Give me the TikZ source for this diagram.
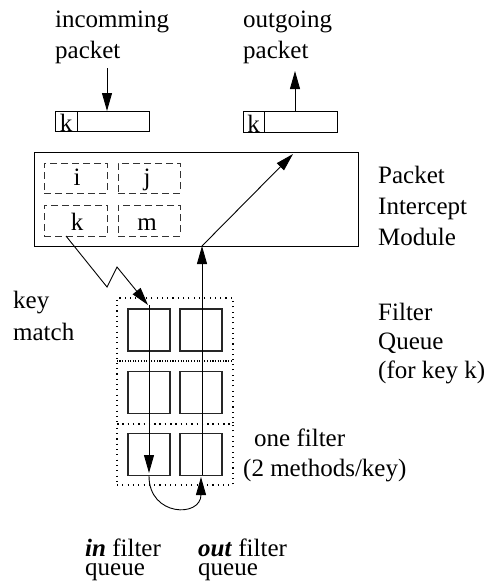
\documentclass[tikz,border=0pt]{standalone}
\usepackage{fontspec}
\setmainfont{Liberation Serif}
\usetikzlibrary{arrows.meta}
\begin{document}
\begin{tikzpicture}[x=1pt,y=1pt,
  txt/.style={font=\fontsize{25}{30}\selectfont, inner sep=0pt, anchor=base west},
  two/.style={font=\fontsize{25}{19}\selectfont, inner sep=0pt, anchor=south west, align=left},
  lbl/.style={font=\fontsize{25}{30}\selectfont, inner sep=0pt, anchor=base},
  arr/.style={line width=0.9pt, -{Triangle[length=18pt,width=10pt]}},
  ln/.style={line width=0.9pt},
  box/.style={draw, line width=0.9pt, rectangle, inner sep=0pt},
  dsh/.style={draw=black!80, rectangle, inner sep=0pt, dash pattern=on 7pt off 4pt, line width=0.9pt},
  dotb/.style={draw, rectangle, inner sep=0pt, dash pattern=on 1.1pt off 4.2pt, line width=1.2pt},
  fbox/.style={draw=black!85, rectangle, inner sep=0pt, line width=1.1pt, minimum width=42pt, minimum height=42pt}
]
\useasboundingbox (0,0) rectangle (487,-582);

% top labels
\node[txt] (tin1) at (55,-27) {incomming};
\node[txt] (tin2) at (55,-58) {packet};
\node[txt] (tout1) at (243,-27) {outgoing};
\node[txt] (tout2) at (243,-58) {packet};

% packets
\node[box, minimum width=94pt, minimum height=20pt] (pin) at (102,-121) {};
\draw[ln] (77,-111) -- (77,-131);
\node[lbl] (kin) at (66,-131) {k};
\node[box, minimum width=94pt, minimum height=21pt] (pout) at (290,-121.5) {};
\draw[ln] (264,-111) -- (264,-132);
\node[lbl] (kout) at (253.5,-132) {k};

\coordinate (ainS) at (107,-68);
\coordinate (ainE) at (107,-111);
\draw[arr] (ainS) -- (ainE);
\coordinate (aoutS) at (295,-111);
\coordinate (aoutE) at (295,-71);
\draw[arr] (aoutS) -- (aoutE);

% main module
\node[box, minimum width=324pt, minimum height=94pt] (pim) at (196,-199) {};
\node[dsh, minimum width=63pt, minimum height=30pt] (bi) at (75.5,-178) {};
\node[dsh, minimum width=62pt, minimum height=30pt] (bj) at (149,-178) {};
\node[dsh, minimum width=63pt, minimum height=31pt] (bk) at (75.5,-220.5) {};
\node[dsh, minimum width=62pt, minimum height=31pt] (bm) at (149,-220.5) {};
\node[lbl] (li) at (77,-185) {i};
\node[lbl] (lj) at (147,-185) {j};
\node[lbl] (lk) at (77,-230) {k};
\node[lbl] (lm) at (147,-230) {m};

\node[txt] (p1) at (378,-183) {Packet};
\node[txt] (p2) at (378,-214) {Intercept};
\node[txt] (p3) at (378,-245) {Module};

% filter queue
\node[dotb, minimum width=116pt, minimum height=63pt] (q1) at (175,-329.5) {};
\node[dotb, minimum width=116pt, minimum height=63pt] (q2) at (175,-392.5) {};
\node[dotb, minimum width=116pt, minimum height=61pt] (q3) at (175,-454.5) {};

\node[fbox] (f11) at (149,-330) {};
\node[fbox] (f12) at (201,-330) {};
\node[fbox] (f21) at (149,-392.5) {};
\node[fbox] (f22) at (201,-392.5) {};
\node[fbox] (f31) at (149,-454.5) {};
\node[fbox] (f32) at (201,-454.5) {};

% key match zigzag
\coordinate (z0) at (66,-236);
\coordinate (z1) at (107,-287);
\coordinate (z2) at (117,-267);
\coordinate (z3) at (148,-305);
\draw[arr] (z0) -- (z1) -- (z2) -- (z3);

% in filter queue line
\coordinate (inT) at (149,-305);
\coordinate (inB) at (149,-473);
\draw[arr] (inT) -- (inB);

% out filter queue line
\coordinate (outB) at (202,-475);
\coordinate (outT) at (202,-246);
\draw[arr] (outB) -- (outT);
\coordinate (diagE) at (293,-154);
\draw[arr] (outT) -- (diagE);

% turn-around curve
\coordinate (cS) at (149,-476);
\coordinate (cE) at (201,-477);
\draw[arr] (cS) to[out=-90,in=-90,looseness=2] (cE);

% side labels
\node[txt] (km1) at (13,-308) {key};
\node[txt] (km2) at (13,-340) {match};
\node[txt] (fq1) at (378,-320) {Filter};
\node[txt] (fq2) at (378,-349) {Queue};
\node[txt] (fq3) at (378,-378) {(for key k)};
\node[txt] (of1) at (254,-446) {one filter};
\node[txt] (of2) at (243,-476) {(2 methods/key)};

% bottom labels
\node[two] (iq) at (85,-581.5) {\textbf{\textit{in}} filter\\queue};
\node[two] (oq) at (198,-581.5) {\textbf{\textit{out}} filter\\queue};
\end{tikzpicture}
\end{document}
